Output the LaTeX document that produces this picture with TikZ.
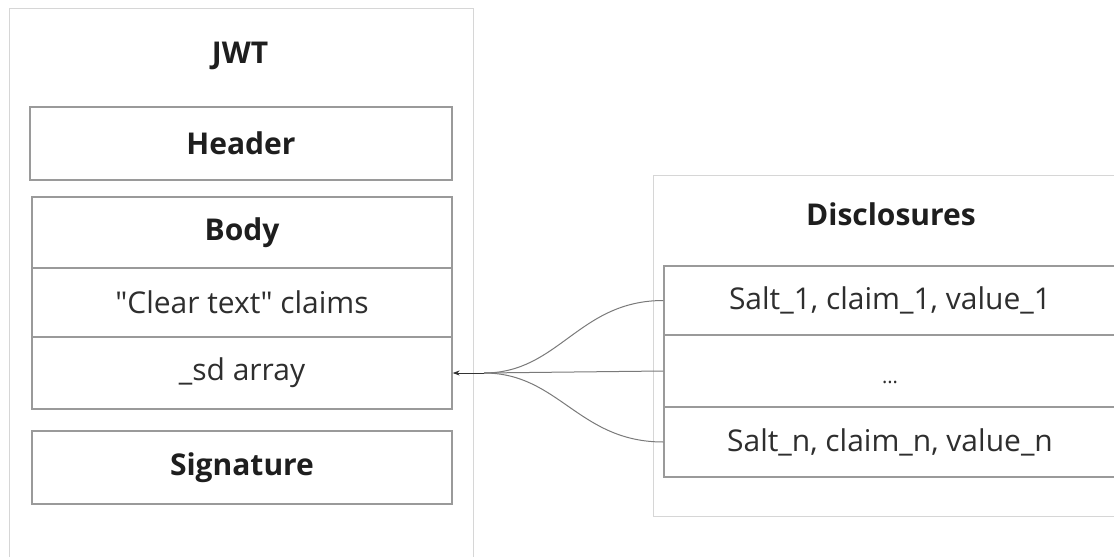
\documentclass[tikz,border=0pt]{standalone}
\usepackage{fontspec}
\setmainfont{Open Sans}
\usetikzlibrary{arrows.meta}
\definecolor{boxgray}{HTML}{9A9A9A}
\definecolor{outergray}{HTML}{D6D6D6}
\definecolor{textc}{HTML}{2E2E2E}
\definecolor{titlec}{HTML}{1E1E1E}
\definecolor{linec}{HTML}{7A7A7A}
\begin{document}
\begin{tikzpicture}[x=1pt,y=-1pt,
  outerbox/.style={draw=outergray, line width=1.4pt, rectangle, inner sep=0pt},
  cell/.style={draw=boxgray, line width=1.3pt, rectangle, inner sep=0pt, text=textc, font=\fontsize{30}{34}\selectfont},
  boldcell/.style={cell, text=titlec, font=\fontsize{30}{34}\selectfont\bfseries},
  titletext/.style={text=titlec, font=\fontsize{30}{34}\selectfont\bfseries, inner sep=0pt},
  link/.style={draw=linec, line width=1pt},
  tip/.style={-{Stealth[length=7pt,width=5pt]}, draw=black!80, line width=1pt}
]
\useasboundingbox (0,0) rectangle (1114,557);
\fill[white] (0,0) rectangle (1114,557);
\clip (0,0) rectangle (1114,557);

% JWT container
\node[outerbox, minimum width=464pt, minimum height=600pt, anchor=north west] (jwt) at (9,8) {};
\node[titletext] (jwttitle) at (240,56) {JWT};
\node[boldcell, minimum width=422pt, minimum height=73pt] (header) at (241,143.5) {Header};
\node[boldcell, minimum width=420pt, minimum height=71pt] (body) at (242,232.5) {Body};
\node[cell, minimum width=420pt, minimum height=69pt] (clear) at (242,302.5) {\textquotedbl Clear text\textquotedbl{} claims};
\node[cell, minimum width=420pt, minimum height=72pt] (sd) at (242,373) {\_sd array};
\node[boldcell, minimum width=420pt, minimum height=73pt] (sig) at (242,467.5) {Signature};

% Disclosures container
\node[outerbox, minimum width=480pt, minimum height=341pt, anchor=north west] (disc) at (653,175) {};
\node[titletext] (disctitle) at (891,214) {Disclosures};
\node[cell, minimum width=452pt, minimum height=69pt] (d1) at (890,300.5) {Salt\_1, claim\_1, value\_1};
\node[cell, minimum width=452pt, minimum height=72pt] (d2) at (890,371) {\raisebox{-12pt}[0pt][0pt]{\fontsize{20}{24}\selectfont ...}};
\node[cell, minimum width=452pt, minimum height=70pt] (d3) at (890,442) {Salt\_n, claim\_n, value\_n};

% connectors
\coordinate (join) at (484,373);
\draw[link] (d1.west) .. controls +(-85,0) and +(75,0) .. (join);
\draw[link] (d2.west) -- (join);
\draw[link] (d3.west) .. controls +(-85,0) and +(75,0) .. (join);
\draw[tip] (join) -- (sd.east);
\end{tikzpicture}
\end{document}
